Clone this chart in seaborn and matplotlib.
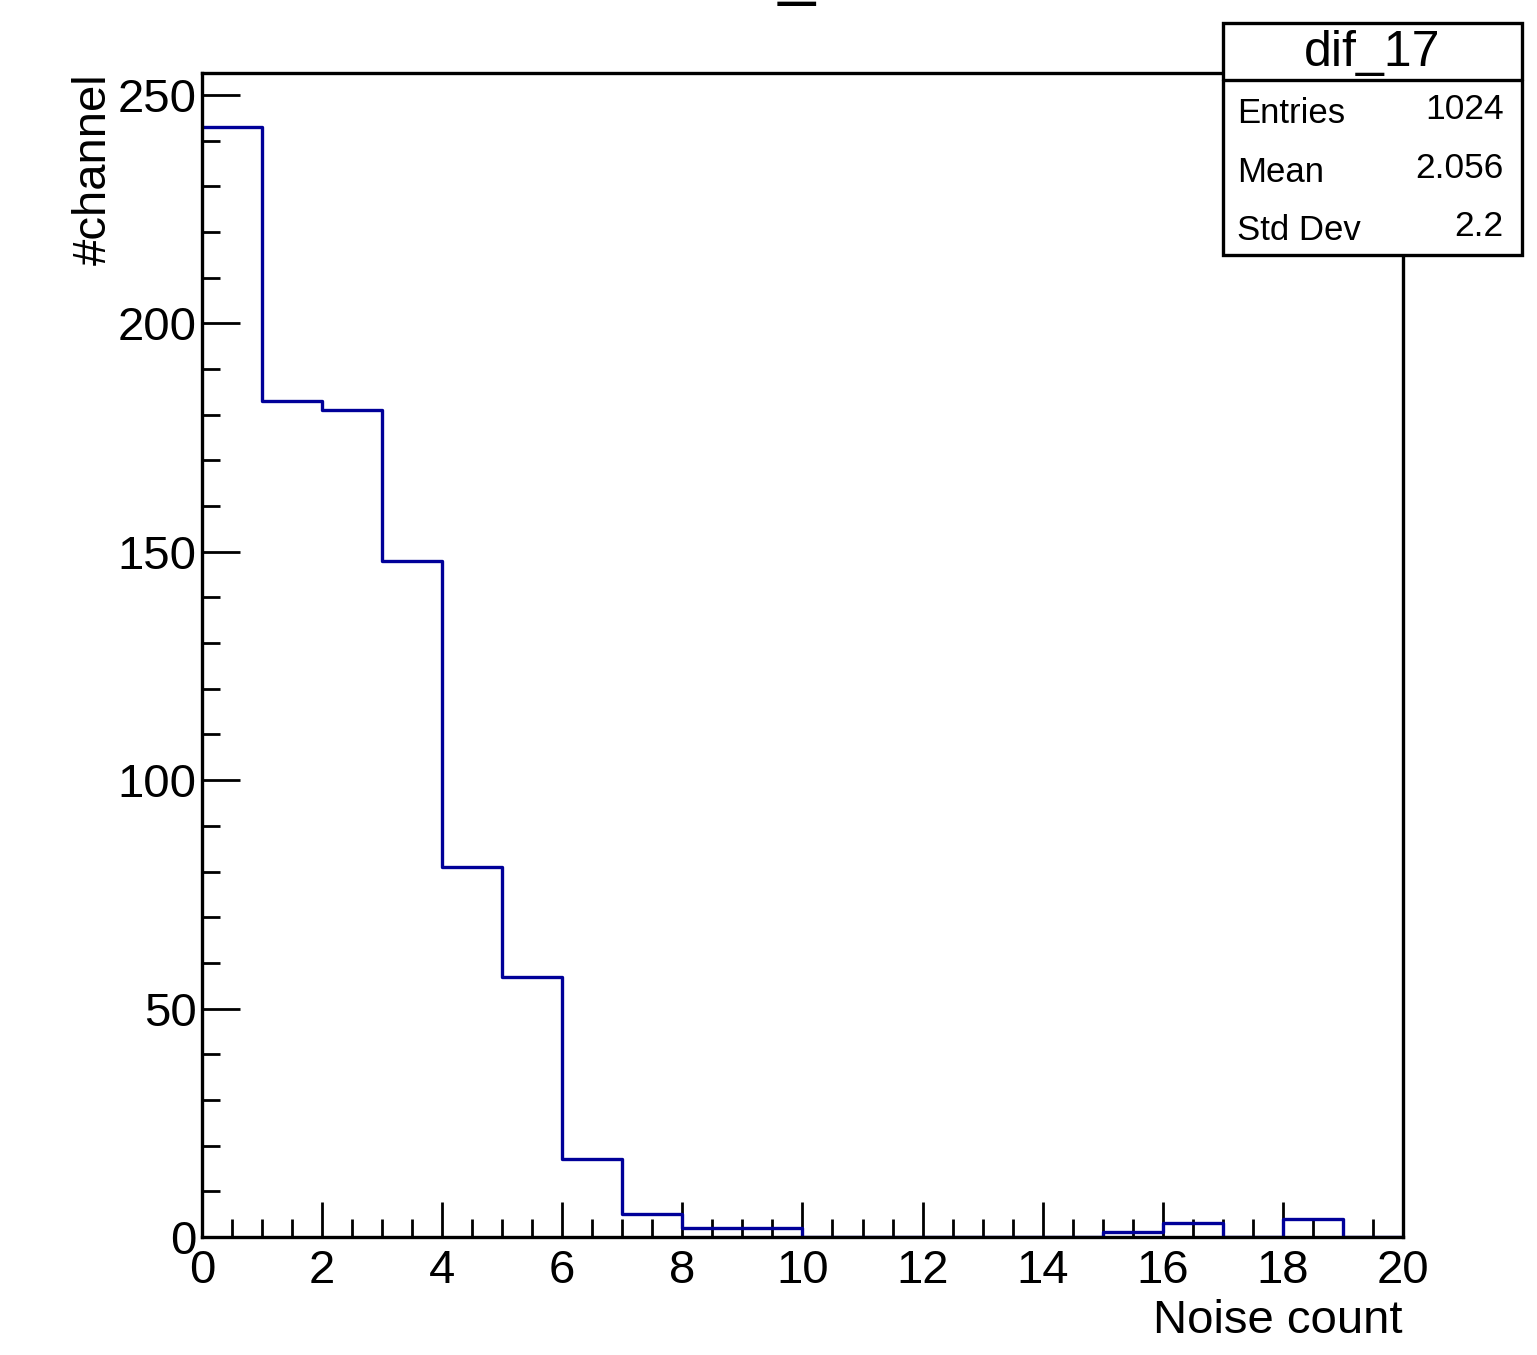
"""Noise count histogram for dif_17 in a ROOT-like look."""
import matplotlib
matplotlib.use('Agg')
import matplotlib.pyplot as plt
from matplotlib.ticker import MultipleLocator
import pandas as pd
import seaborn as sns

# bin lower edges and channel counts
bin_lefts = list(range(20))
counts = [243, 183, 181, 148, 81, 57, 17, 5, 2, 2,
          0, 0, 0, 0, 0, 1, 3, 0, 4, 0]
stat_names = ['Entries', 'Mean', 'Std Dev']
stat_values = ['1024', '2.056', '2.2']
hist_name = 'dif_17'

sns.set_style('ticks')
plt.rcParams['font.family'] = ['Liberation Sans', 'DejaVu Sans']
plt.rcParams.update({'text.color': 'black', 'axes.labelcolor': 'black',
                     'xtick.color': 'black', 'ytick.color': 'black'})

df = pd.DataFrame({'noise': bin_lefts, 'channels': counts})

fig = plt.figure(figsize=(15.37, 13.55), dpi=100)
ax = fig.add_axes([0.1314, 0.0871, 0.7814, 0.859])

sns.histplot(data=df, x='noise', weights='channels', bins=20,
             binrange=(0, 20), element='step', fill=False, color='#000099',
             linewidth=2.4, ax=ax)

ax.set_xlim(0, 20)
ax.set_ylim(0, 254.8)
ax.xaxis.set_major_locator(MultipleLocator(2))
ax.xaxis.set_minor_locator(MultipleLocator(0.5))
ax.yaxis.set_major_locator(MultipleLocator(50))
ax.yaxis.set_minor_locator(MultipleLocator(10))
ax.tick_params(axis='x', which='major', direction='in', length=25, width=2,
               labelsize=34, pad=9)
ax.tick_params(axis='x', which='minor', direction='in', length=13, width=2)
ax.tick_params(axis='y', which='major', direction='in', length=27, width=2,
               labelsize=34, pad=4)
ax.tick_params(axis='y', which='minor', direction='in', length=13, width=2)
for spine in ax.spines.values():
    spine.set_visible(True)
    spine.set_linewidth(2.4)
    spine.set_color('black')

ax.set_xlabel('Noise count', fontsize=34, loc='right', labelpad=4)
ax.set_ylabel('#channel', fontsize=34, loc='top', labelpad=1)

# title sits above the canvas, only its underscore shows
fig.text(0.52, 1.0055, hist_name, fontsize=48, ha='center', va='baseline')

# stats box
box_l, box_r, box_b, box_t, box_mid = 0.7957, 0.9902, 0.8118, 0.983, 0.941
fig.patches.append(plt.Rectangle((box_l, box_b), box_r - box_l, box_t - box_b,
                                 transform=fig.transFigure, facecolor='white',
                                 edgecolor='black', linewidth=2.4, zorder=5))
fig.lines.append(plt.Line2D([box_l, box_r], [box_mid, box_mid],
                            transform=fig.transFigure, color='black',
                            linewidth=2.4, zorder=6))
fig.text((box_l + box_r) / 2, (box_t + box_mid) / 2 - 0.001, hist_name,
         fontsize=36, ha='center', va='center', zorder=7)
row_h = (box_mid - box_b) / len(stat_names)
for i, (name, value) in enumerate(zip(stat_names, stat_values)):
    yy = box_mid - row_h * (i + 0.5) - 0.0035
    fig.text(box_l + 0.009, yy, name, fontsize=25, ha='left', va='center',
             zorder=7)
    fig.text(box_r - 0.012, yy + 0.003, value, fontsize=25.5, ha='right',
             va='center', zorder=7)

fig.savefig('out.png', dpi=100)
